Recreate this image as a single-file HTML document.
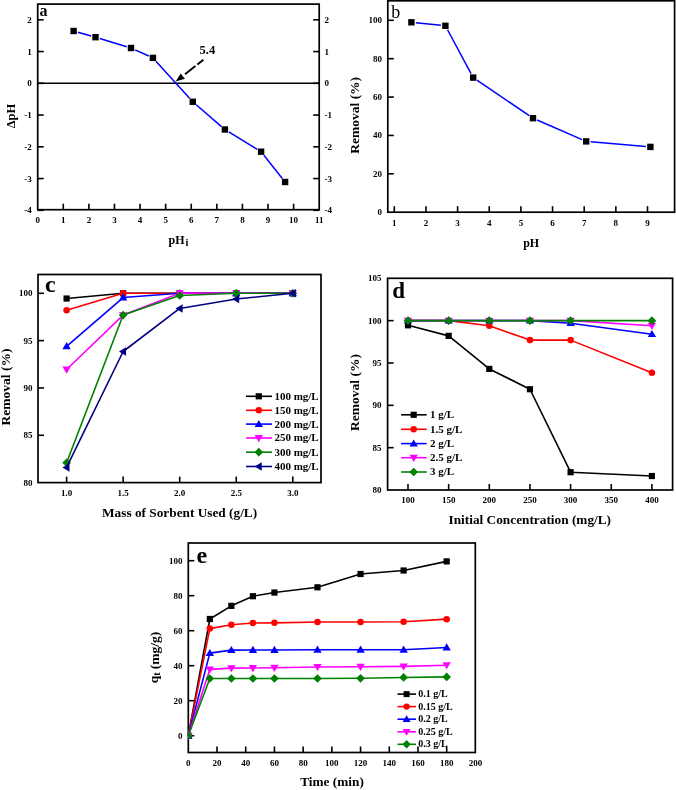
<!DOCTYPE html>
<html><head><meta charset="utf-8"><style>
html,body{margin:0;padding:0;background:#fff;}
svg{display:block;font-family:"Liberation Serif", serif;will-change:transform;}
</style></head><body>
<svg width="676" height="790" viewBox="0 0 676 790">
<rect width="676" height="790" fill="#fff"/>
<defs>
<clipPath id="ce"><rect x="188.3" y="543" width="287" height="209.5"/></clipPath>
</defs>
<rect x="37.70" y="4.10" width="281.50" height="205.60" fill="none" stroke="#000" stroke-width="1.7"/>
<text x="37.70" y="219.60" font-size="9" text-anchor="middle" font-weight="bold" dominant-baseline="central" >0</text>
<line x1="63.29" y1="209.70" x2="63.29" y2="203.70" stroke="#000" stroke-width="1.6" />
<text x="63.29" y="219.60" font-size="9" text-anchor="middle" font-weight="bold" dominant-baseline="central" >1</text>
<line x1="88.88" y1="209.70" x2="88.88" y2="203.70" stroke="#000" stroke-width="1.6" />
<text x="88.88" y="219.60" font-size="9" text-anchor="middle" font-weight="bold" dominant-baseline="central" >2</text>
<line x1="114.47" y1="209.70" x2="114.47" y2="203.70" stroke="#000" stroke-width="1.6" />
<text x="114.47" y="219.60" font-size="9" text-anchor="middle" font-weight="bold" dominant-baseline="central" >3</text>
<line x1="140.06" y1="209.70" x2="140.06" y2="203.70" stroke="#000" stroke-width="1.6" />
<text x="140.06" y="219.60" font-size="9" text-anchor="middle" font-weight="bold" dominant-baseline="central" >4</text>
<line x1="165.65" y1="209.70" x2="165.65" y2="203.70" stroke="#000" stroke-width="1.6" />
<text x="165.65" y="219.60" font-size="9" text-anchor="middle" font-weight="bold" dominant-baseline="central" >5</text>
<line x1="191.24" y1="209.70" x2="191.24" y2="203.70" stroke="#000" stroke-width="1.6" />
<text x="191.24" y="219.60" font-size="9" text-anchor="middle" font-weight="bold" dominant-baseline="central" >6</text>
<line x1="216.83" y1="209.70" x2="216.83" y2="203.70" stroke="#000" stroke-width="1.6" />
<text x="216.83" y="219.60" font-size="9" text-anchor="middle" font-weight="bold" dominant-baseline="central" >7</text>
<line x1="242.42" y1="209.70" x2="242.42" y2="203.70" stroke="#000" stroke-width="1.6" />
<text x="242.42" y="219.60" font-size="9" text-anchor="middle" font-weight="bold" dominant-baseline="central" >8</text>
<line x1="268.01" y1="209.70" x2="268.01" y2="203.70" stroke="#000" stroke-width="1.6" />
<text x="268.01" y="219.60" font-size="9" text-anchor="middle" font-weight="bold" dominant-baseline="central" >9</text>
<line x1="293.60" y1="209.70" x2="293.60" y2="203.70" stroke="#000" stroke-width="1.6" />
<text x="293.60" y="219.60" font-size="9" text-anchor="middle" font-weight="bold" dominant-baseline="central" >10</text>
<text x="319.19" y="219.60" font-size="9" text-anchor="middle" font-weight="bold" dominant-baseline="central" >11</text>
<line x1="37.70" y1="210.30" x2="43.70" y2="210.30" stroke="#000" stroke-width="1.6" />
<line x1="319.20" y1="210.30" x2="313.20" y2="210.30" stroke="#000" stroke-width="1.6" />
<text x="31.80" y="210.30" font-size="9" text-anchor="end" font-weight="bold" dominant-baseline="central" >-4</text>
<text x="324.50" y="210.30" font-size="9" text-anchor="start" font-weight="bold" dominant-baseline="central" >-4</text>
<line x1="37.70" y1="178.55" x2="43.70" y2="178.55" stroke="#000" stroke-width="1.6" />
<line x1="319.20" y1="178.55" x2="313.20" y2="178.55" stroke="#000" stroke-width="1.6" />
<text x="31.80" y="178.55" font-size="9" text-anchor="end" font-weight="bold" dominant-baseline="central" >-3</text>
<text x="324.50" y="178.55" font-size="9" text-anchor="start" font-weight="bold" dominant-baseline="central" >-3</text>
<line x1="37.70" y1="146.80" x2="43.70" y2="146.80" stroke="#000" stroke-width="1.6" />
<line x1="319.20" y1="146.80" x2="313.20" y2="146.80" stroke="#000" stroke-width="1.6" />
<text x="31.80" y="146.80" font-size="9" text-anchor="end" font-weight="bold" dominant-baseline="central" >-2</text>
<text x="324.50" y="146.80" font-size="9" text-anchor="start" font-weight="bold" dominant-baseline="central" >-2</text>
<line x1="37.70" y1="115.05" x2="43.70" y2="115.05" stroke="#000" stroke-width="1.6" />
<line x1="319.20" y1="115.05" x2="313.20" y2="115.05" stroke="#000" stroke-width="1.6" />
<text x="31.80" y="115.05" font-size="9" text-anchor="end" font-weight="bold" dominant-baseline="central" >-1</text>
<text x="324.50" y="115.05" font-size="9" text-anchor="start" font-weight="bold" dominant-baseline="central" >-1</text>
<line x1="37.70" y1="83.30" x2="43.70" y2="83.30" stroke="#000" stroke-width="1.6" />
<line x1="319.20" y1="83.30" x2="313.20" y2="83.30" stroke="#000" stroke-width="1.6" />
<text x="31.80" y="83.30" font-size="9" text-anchor="end" font-weight="bold" dominant-baseline="central" >0</text>
<text x="324.50" y="83.30" font-size="9" text-anchor="start" font-weight="bold" dominant-baseline="central" >0</text>
<line x1="37.70" y1="51.55" x2="43.70" y2="51.55" stroke="#000" stroke-width="1.6" />
<line x1="319.20" y1="51.55" x2="313.20" y2="51.55" stroke="#000" stroke-width="1.6" />
<text x="31.80" y="51.55" font-size="9" text-anchor="end" font-weight="bold" dominant-baseline="central" >1</text>
<text x="324.50" y="51.55" font-size="9" text-anchor="start" font-weight="bold" dominant-baseline="central" >1</text>
<line x1="37.70" y1="19.80" x2="43.70" y2="19.80" stroke="#000" stroke-width="1.6" />
<line x1="319.20" y1="19.80" x2="313.20" y2="19.80" stroke="#000" stroke-width="1.6" />
<text x="31.80" y="19.80" font-size="9" text-anchor="end" font-weight="bold" dominant-baseline="central" >2</text>
<text x="324.50" y="19.80" font-size="9" text-anchor="start" font-weight="bold" dominant-baseline="central" >2</text>
<line x1="37.70" y1="83.20" x2="319.20" y2="83.20" stroke="#000" stroke-width="1.5" />
<line x1="77.93" y1="32.23" x2="91.17" y2="35.97" stroke="#0000ff" stroke-width="1.5"/>
<line x1="99.81" y1="38.51" x2="126.69" y2="46.69" stroke="#0000ff" stroke-width="1.5"/>
<line x1="135.10" y1="49.85" x2="148.80" y2="56.05" stroke="#0000ff" stroke-width="1.5"/>
<line x1="155.93" y1="61.23" x2="189.77" y2="98.47" stroke="#0000ff" stroke-width="1.5"/>
<line x1="196.21" y1="104.74" x2="221.49" y2="126.56" stroke="#0000ff" stroke-width="1.5"/>
<line x1="228.74" y1="131.85" x2="257.26" y2="149.35" stroke="#0000ff" stroke-width="1.5"/>
<line x1="263.89" y1="155.23" x2="282.31" y2="178.47" stroke="#0000ff" stroke-width="1.5"/>
<rect x="70.40" y="27.80" width="6.40" height="6.40" fill="#000"/>
<rect x="92.30" y="34.00" width="6.40" height="6.40" fill="#000"/>
<rect x="127.80" y="44.80" width="6.40" height="6.40" fill="#000"/>
<rect x="149.70" y="54.70" width="6.40" height="6.40" fill="#000"/>
<rect x="189.60" y="98.60" width="6.40" height="6.40" fill="#000"/>
<rect x="221.70" y="126.30" width="6.40" height="6.40" fill="#000"/>
<rect x="257.90" y="148.50" width="6.40" height="6.40" fill="#000"/>
<rect x="281.90" y="178.80" width="6.40" height="6.40" fill="#000"/>
<line x1="203.40" y1="59.80" x2="197.40" y2="64.40" stroke="#000" stroke-width="1.9" />
<line x1="195.40" y1="66.00" x2="185.00" y2="74.20" stroke="#000" stroke-width="1.9" />
<polygon points="175.6,81.6 180.7,73.4 184.9,78.8" fill="#000"/>
<text x="207.40" y="50.00" font-size="12.5" text-anchor="middle" font-weight="bold" dominant-baseline="central" >5.4</text>
<text x="39.50" y="16.00" font-size="16" text-anchor="start" font-weight="bold" dominant-baseline="alphabetic" >a</text>
<text x="11.20" y="116.00" font-size="12.5" text-anchor="middle" font-weight="bold" dominant-baseline="central" transform="rotate(-90 11.2 116)">&#916;pH</text>
<text x="168.6" y="244" font-size="12" font-weight="bold">pH<tspan font-size="10.5" dx="0.8" dy="1.8">i</tspan></text>
<rect x="387.80" y="0.80" width="286.80" height="211.40" fill="none" stroke="#000" stroke-width="1.7"/>
<line x1="394.30" y1="212.20" x2="394.30" y2="206.20" stroke="#000" stroke-width="1.6" />
<text x="394.30" y="223.20" font-size="9" text-anchor="middle" font-weight="bold" dominant-baseline="central" >1</text>
<line x1="425.95" y1="212.20" x2="425.95" y2="206.20" stroke="#000" stroke-width="1.6" />
<text x="425.95" y="223.20" font-size="9" text-anchor="middle" font-weight="bold" dominant-baseline="central" >2</text>
<line x1="457.60" y1="212.20" x2="457.60" y2="206.20" stroke="#000" stroke-width="1.6" />
<text x="457.60" y="223.20" font-size="9" text-anchor="middle" font-weight="bold" dominant-baseline="central" >3</text>
<line x1="489.25" y1="212.20" x2="489.25" y2="206.20" stroke="#000" stroke-width="1.6" />
<text x="489.25" y="223.20" font-size="9" text-anchor="middle" font-weight="bold" dominant-baseline="central" >4</text>
<line x1="520.90" y1="212.20" x2="520.90" y2="206.20" stroke="#000" stroke-width="1.6" />
<text x="520.90" y="223.20" font-size="9" text-anchor="middle" font-weight="bold" dominant-baseline="central" >5</text>
<line x1="552.55" y1="212.20" x2="552.55" y2="206.20" stroke="#000" stroke-width="1.6" />
<text x="552.55" y="223.20" font-size="9" text-anchor="middle" font-weight="bold" dominant-baseline="central" >6</text>
<line x1="584.20" y1="212.20" x2="584.20" y2="206.20" stroke="#000" stroke-width="1.6" />
<text x="584.20" y="223.20" font-size="9" text-anchor="middle" font-weight="bold" dominant-baseline="central" >7</text>
<line x1="615.85" y1="212.20" x2="615.85" y2="206.20" stroke="#000" stroke-width="1.6" />
<text x="615.85" y="223.20" font-size="9" text-anchor="middle" font-weight="bold" dominant-baseline="central" >8</text>
<line x1="647.50" y1="212.20" x2="647.50" y2="206.20" stroke="#000" stroke-width="1.6" />
<text x="647.50" y="223.20" font-size="9" text-anchor="middle" font-weight="bold" dominant-baseline="central" >9</text>
<text x="382.00" y="212.20" font-size="9" text-anchor="end" font-weight="bold" dominant-baseline="central" >0</text>
<line x1="387.80" y1="173.82" x2="393.80" y2="173.82" stroke="#000" stroke-width="1.6" />
<text x="382.00" y="173.82" font-size="9" text-anchor="end" font-weight="bold" dominant-baseline="central" >20</text>
<line x1="387.80" y1="135.44" x2="393.80" y2="135.44" stroke="#000" stroke-width="1.6" />
<text x="382.00" y="135.44" font-size="9" text-anchor="end" font-weight="bold" dominant-baseline="central" >40</text>
<line x1="387.80" y1="97.06" x2="393.80" y2="97.06" stroke="#000" stroke-width="1.6" />
<text x="382.00" y="97.06" font-size="9" text-anchor="end" font-weight="bold" dominant-baseline="central" >60</text>
<line x1="387.80" y1="58.68" x2="393.80" y2="58.68" stroke="#000" stroke-width="1.6" />
<text x="382.00" y="58.68" font-size="9" text-anchor="end" font-weight="bold" dominant-baseline="central" >80</text>
<line x1="387.80" y1="20.30" x2="393.80" y2="20.30" stroke="#000" stroke-width="1.6" />
<text x="382.00" y="20.30" font-size="9" text-anchor="end" font-weight="bold" dominant-baseline="central" >100</text>
<line x1="415.88" y1="22.76" x2="440.92" y2="25.34" stroke="#0000ff" stroke-width="1.5"/>
<line x1="447.53" y1="29.77" x2="471.07" y2="73.63" stroke="#0000ff" stroke-width="1.5"/>
<line x1="476.92" y1="80.13" x2="529.28" y2="115.67" stroke="#0000ff" stroke-width="1.5"/>
<line x1="537.12" y1="120.00" x2="582.08" y2="139.60" stroke="#0000ff" stroke-width="1.5"/>
<line x1="590.68" y1="141.78" x2="645.92" y2="146.52" stroke="#0000ff" stroke-width="1.5"/>
<rect x="408.20" y="19.10" width="6.40" height="6.40" fill="#000"/>
<rect x="442.20" y="22.60" width="6.40" height="6.40" fill="#000"/>
<rect x="470.00" y="74.40" width="6.40" height="6.40" fill="#000"/>
<rect x="529.80" y="115.00" width="6.40" height="6.40" fill="#000"/>
<rect x="583.00" y="138.20" width="6.40" height="6.40" fill="#000"/>
<rect x="647.20" y="143.70" width="6.40" height="6.40" fill="#000"/>
<text x="391.20" y="18.30" font-size="18" text-anchor="start" font-weight="normal" dominant-baseline="alphabetic" >b</text>
<text x="354.20" y="115.30" font-size="13.5" text-anchor="middle" font-weight="bold" dominant-baseline="central" transform="rotate(-90 354.2 115.3)">Removal (%)</text>
<text x="531.20" y="246.70" font-size="12" text-anchor="middle" font-weight="bold" dominant-baseline="alphabetic" >pH</text>
<rect x="38.00" y="274.50" width="283.00" height="208.10" fill="none" stroke="#000" stroke-width="1.7"/>
<line x1="66.60" y1="482.60" x2="66.60" y2="476.60" stroke="#000" stroke-width="1.6" />
<text x="66.60" y="492.90" font-size="9" text-anchor="middle" font-weight="bold" dominant-baseline="central" >1.0</text>
<line x1="123.15" y1="482.60" x2="123.15" y2="476.60" stroke="#000" stroke-width="1.6" />
<text x="123.15" y="492.90" font-size="9" text-anchor="middle" font-weight="bold" dominant-baseline="central" >1.5</text>
<line x1="179.70" y1="482.60" x2="179.70" y2="476.60" stroke="#000" stroke-width="1.6" />
<text x="179.70" y="492.90" font-size="9" text-anchor="middle" font-weight="bold" dominant-baseline="central" >2.0</text>
<line x1="236.25" y1="482.60" x2="236.25" y2="476.60" stroke="#000" stroke-width="1.6" />
<text x="236.25" y="492.90" font-size="9" text-anchor="middle" font-weight="bold" dominant-baseline="central" >2.5</text>
<line x1="292.80" y1="482.60" x2="292.80" y2="476.60" stroke="#000" stroke-width="1.6" />
<text x="292.80" y="492.90" font-size="9" text-anchor="middle" font-weight="bold" dominant-baseline="central" >3.0</text>
<text x="32.50" y="482.60" font-size="9" text-anchor="end" font-weight="bold" dominant-baseline="central" >80</text>
<line x1="38.00" y1="435.27" x2="44.00" y2="435.27" stroke="#000" stroke-width="1.6" />
<text x="32.50" y="435.27" font-size="9" text-anchor="end" font-weight="bold" dominant-baseline="central" >85</text>
<line x1="38.00" y1="387.95" x2="44.00" y2="387.95" stroke="#000" stroke-width="1.6" />
<text x="32.50" y="387.95" font-size="9" text-anchor="end" font-weight="bold" dominant-baseline="central" >90</text>
<line x1="38.00" y1="340.62" x2="44.00" y2="340.62" stroke="#000" stroke-width="1.6" />
<text x="32.50" y="340.62" font-size="9" text-anchor="end" font-weight="bold" dominant-baseline="central" >95</text>
<line x1="38.00" y1="293.30" x2="44.00" y2="293.30" stroke="#000" stroke-width="1.6" />
<text x="32.50" y="293.30" font-size="9" text-anchor="end" font-weight="bold" dominant-baseline="central" >100</text>
<polyline points="66.60,298.51 123.15,293.30 179.70,293.30 236.25,293.30 292.80,293.30" fill="none" stroke="#000000" stroke-width="1.6" stroke-linejoin="round" />
<rect x="63.50" y="295.41" width="6.20" height="6.20" fill="#000000"/>
<rect x="120.05" y="290.20" width="6.20" height="6.20" fill="#000000"/>
<rect x="176.60" y="290.20" width="6.20" height="6.20" fill="#000000"/>
<rect x="233.15" y="290.20" width="6.20" height="6.20" fill="#000000"/>
<rect x="289.70" y="290.20" width="6.20" height="6.20" fill="#000000"/>
<polyline points="66.60,310.34 123.15,293.30 179.70,293.30 236.25,293.30 292.80,293.30" fill="none" stroke="#ff0000" stroke-width="1.6" stroke-linejoin="round" />
<circle cx="66.60" cy="310.34" r="3.26" fill="#ff0000"/>
<circle cx="123.15" cy="293.30" r="3.26" fill="#ff0000"/>
<circle cx="179.70" cy="293.30" r="3.26" fill="#ff0000"/>
<circle cx="236.25" cy="293.30" r="3.26" fill="#ff0000"/>
<circle cx="292.80" cy="293.30" r="3.26" fill="#ff0000"/>
<polyline points="66.60,346.30 123.15,297.56 179.70,293.30 236.25,293.30 292.80,293.30" fill="none" stroke="#0000ff" stroke-width="1.6" stroke-linejoin="round" />
<polygon points="66.60,342.12 70.78,349.23 62.41,349.23" fill="#0000ff"/>
<polygon points="123.15,293.37 127.33,300.49 118.96,300.49" fill="#0000ff"/>
<polygon points="179.70,289.12 183.88,296.23 175.51,296.23" fill="#0000ff"/>
<polygon points="236.25,289.12 240.43,296.23 232.06,296.23" fill="#0000ff"/>
<polygon points="292.80,289.12 296.98,296.23 288.61,296.23" fill="#0000ff"/>
<polyline points="66.60,369.49 123.15,315.07 179.70,293.30 236.25,293.30 292.80,293.30" fill="none" stroke="#ff00ff" stroke-width="1.6" stroke-linejoin="round" />
<polygon points="66.60,373.68 70.78,366.56 62.41,366.56" fill="#ff00ff"/>
<polygon points="123.15,319.25 127.33,312.14 118.96,312.14" fill="#ff00ff"/>
<polygon points="179.70,297.49 183.88,290.37 175.51,290.37" fill="#ff00ff"/>
<polygon points="236.25,297.49 240.43,290.37 232.06,290.37" fill="#ff00ff"/>
<polygon points="292.80,297.49 296.98,290.37 288.61,290.37" fill="#ff00ff"/>
<polyline points="66.60,462.72 123.15,315.07 179.70,295.48 236.25,293.30 292.80,293.30" fill="none" stroke="#008000" stroke-width="1.6" stroke-linejoin="round" />
<polygon points="66.60,458.38 70.94,462.72 66.60,467.06 62.26,462.72" fill="#008000"/>
<polygon points="123.15,310.73 127.49,315.07 123.15,319.41 118.81,315.07" fill="#008000"/>
<polygon points="179.70,291.14 184.04,295.48 179.70,299.82 175.36,295.48" fill="#008000"/>
<polygon points="236.25,288.96 240.59,293.30 236.25,297.64 231.91,293.30" fill="#008000"/>
<polygon points="292.80,288.96 297.14,293.30 292.80,297.64 288.46,293.30" fill="#008000"/>
<polyline points="66.60,467.46 123.15,351.51 179.70,308.44 236.25,298.98 292.80,293.30" fill="none" stroke="#000080" stroke-width="1.6" stroke-linejoin="round" />
<polygon points="62.41,467.46 69.53,463.27 69.53,471.64" fill="#000080"/>
<polygon points="118.96,351.51 126.08,347.32 126.08,355.69" fill="#000080"/>
<polygon points="175.51,308.44 182.63,304.26 182.63,312.63" fill="#000080"/>
<polygon points="232.06,298.98 239.18,294.79 239.18,303.16" fill="#000080"/>
<polygon points="288.61,293.30 295.73,289.12 295.73,297.49" fill="#000080"/>
<line x1="246.00" y1="396.30" x2="272.00" y2="396.30" stroke="#000000" stroke-width="1.6" />
<rect x="255.70" y="393.20" width="6.20" height="6.20" fill="#000000"/>
<text x="274.40" y="395.70" font-size="11" text-anchor="start" font-weight="bold" dominant-baseline="central" >100 mg/L</text>
<line x1="246.00" y1="410.30" x2="272.00" y2="410.30" stroke="#ff0000" stroke-width="1.6" />
<circle cx="258.80" cy="410.30" r="3.26" fill="#ff0000"/>
<text x="274.40" y="409.70" font-size="11" text-anchor="start" font-weight="bold" dominant-baseline="central" >150 mg/L</text>
<line x1="246.00" y1="424.10" x2="272.00" y2="424.10" stroke="#0000ff" stroke-width="1.6" />
<polygon points="258.80,419.92 262.99,427.03 254.62,427.03" fill="#0000ff"/>
<text x="274.40" y="423.50" font-size="11" text-anchor="start" font-weight="bold" dominant-baseline="central" >200 mg/L</text>
<line x1="246.00" y1="438.00" x2="272.00" y2="438.00" stroke="#ff00ff" stroke-width="1.6" />
<polygon points="258.80,442.19 262.99,435.07 254.62,435.07" fill="#ff00ff"/>
<text x="274.40" y="437.40" font-size="11" text-anchor="start" font-weight="bold" dominant-baseline="central" >250 mg/L</text>
<line x1="246.00" y1="452.20" x2="272.00" y2="452.20" stroke="#008000" stroke-width="1.6" />
<polygon points="258.80,447.86 263.14,452.20 258.80,456.54 254.46,452.20" fill="#008000"/>
<text x="274.40" y="451.60" font-size="11" text-anchor="start" font-weight="bold" dominant-baseline="central" >300 mg/L</text>
<line x1="246.00" y1="466.50" x2="272.00" y2="466.50" stroke="#000080" stroke-width="1.6" />
<polygon points="254.62,466.50 261.73,462.31 261.73,470.69" fill="#000080"/>
<text x="274.40" y="465.90" font-size="11" text-anchor="start" font-weight="bold" dominant-baseline="central" >400 mg/L</text>
<text x="45.00" y="291.50" font-size="24" text-anchor="start" font-weight="bold" dominant-baseline="alphabetic" >c</text>
<text x="5.20" y="387.00" font-size="13.5" text-anchor="middle" font-weight="bold" dominant-baseline="central" transform="rotate(-90 5.2 387)">Removal (%)</text>
<text x="179.60" y="516.60" font-size="13.3" text-anchor="middle" font-weight="bold" dominant-baseline="alphabetic" >Mass of Sorbent Used (g/L)</text>
<rect x="387.60" y="278.30" width="285.00" height="211.70" fill="none" stroke="#000" stroke-width="1.7"/>
<line x1="408.00" y1="490.00" x2="408.00" y2="484.00" stroke="#000" stroke-width="1.6" />
<text x="408.00" y="500.40" font-size="9" text-anchor="middle" font-weight="bold" dominant-baseline="central" >100</text>
<line x1="448.65" y1="490.00" x2="448.65" y2="484.00" stroke="#000" stroke-width="1.6" />
<text x="448.65" y="500.40" font-size="9" text-anchor="middle" font-weight="bold" dominant-baseline="central" >150</text>
<line x1="489.30" y1="490.00" x2="489.30" y2="484.00" stroke="#000" stroke-width="1.6" />
<text x="489.30" y="500.40" font-size="9" text-anchor="middle" font-weight="bold" dominant-baseline="central" >200</text>
<line x1="529.95" y1="490.00" x2="529.95" y2="484.00" stroke="#000" stroke-width="1.6" />
<text x="529.95" y="500.40" font-size="9" text-anchor="middle" font-weight="bold" dominant-baseline="central" >250</text>
<line x1="570.60" y1="490.00" x2="570.60" y2="484.00" stroke="#000" stroke-width="1.6" />
<text x="570.60" y="500.40" font-size="9" text-anchor="middle" font-weight="bold" dominant-baseline="central" >300</text>
<line x1="611.25" y1="490.00" x2="611.25" y2="484.00" stroke="#000" stroke-width="1.6" />
<text x="611.25" y="500.40" font-size="9" text-anchor="middle" font-weight="bold" dominant-baseline="central" >350</text>
<line x1="651.90" y1="490.00" x2="651.90" y2="484.00" stroke="#000" stroke-width="1.6" />
<text x="651.90" y="500.40" font-size="9" text-anchor="middle" font-weight="bold" dominant-baseline="central" >400</text>
<text x="381.50" y="490.00" font-size="9" text-anchor="end" font-weight="bold" dominant-baseline="central" >80</text>
<line x1="387.60" y1="447.66" x2="393.60" y2="447.66" stroke="#000" stroke-width="1.6" />
<text x="381.50" y="447.66" font-size="9" text-anchor="end" font-weight="bold" dominant-baseline="central" >85</text>
<line x1="387.60" y1="405.32" x2="393.60" y2="405.32" stroke="#000" stroke-width="1.6" />
<text x="381.50" y="405.32" font-size="9" text-anchor="end" font-weight="bold" dominant-baseline="central" >90</text>
<line x1="387.60" y1="362.98" x2="393.60" y2="362.98" stroke="#000" stroke-width="1.6" />
<text x="381.50" y="362.98" font-size="9" text-anchor="end" font-weight="bold" dominant-baseline="central" >95</text>
<line x1="387.60" y1="320.64" x2="393.60" y2="320.64" stroke="#000" stroke-width="1.6" />
<text x="381.50" y="320.64" font-size="9" text-anchor="end" font-weight="bold" dominant-baseline="central" >100</text>
<text x="381.50" y="278.30" font-size="9" text-anchor="end" font-weight="bold" dominant-baseline="central" >105</text>
<polyline points="408.00,325.30 448.65,335.88 489.30,368.91 529.95,389.23 570.60,472.22 651.90,476.03" fill="none" stroke="#000000" stroke-width="1.6" stroke-linejoin="round" />
<rect x="404.90" y="322.20" width="6.20" height="6.20" fill="#000000"/>
<rect x="445.55" y="332.78" width="6.20" height="6.20" fill="#000000"/>
<rect x="486.20" y="365.81" width="6.20" height="6.20" fill="#000000"/>
<rect x="526.85" y="386.13" width="6.20" height="6.20" fill="#000000"/>
<rect x="567.50" y="469.12" width="6.20" height="6.20" fill="#000000"/>
<rect x="648.80" y="472.93" width="6.20" height="6.20" fill="#000000"/>
<polyline points="408.00,320.64 448.65,320.64 489.30,325.72 529.95,340.12 570.60,340.12 651.90,372.72" fill="none" stroke="#ff0000" stroke-width="1.6" stroke-linejoin="round" />
<circle cx="408.00" cy="320.64" r="3.26" fill="#ff0000"/>
<circle cx="448.65" cy="320.64" r="3.26" fill="#ff0000"/>
<circle cx="489.30" cy="325.72" r="3.26" fill="#ff0000"/>
<circle cx="529.95" cy="340.12" r="3.26" fill="#ff0000"/>
<circle cx="570.60" cy="340.12" r="3.26" fill="#ff0000"/>
<circle cx="651.90" cy="372.72" r="3.26" fill="#ff0000"/>
<polyline points="408.00,320.64 448.65,320.64 489.30,320.64 529.95,320.64 570.60,323.18 651.90,334.19" fill="none" stroke="#0000ff" stroke-width="1.6" stroke-linejoin="round" />
<polygon points="408.00,316.45 412.19,323.57 403.81,323.57" fill="#0000ff"/>
<polygon points="448.65,316.45 452.83,323.57 444.46,323.57" fill="#0000ff"/>
<polygon points="489.30,316.45 493.49,323.57 485.12,323.57" fill="#0000ff"/>
<polygon points="529.95,316.45 534.13,323.57 525.77,323.57" fill="#0000ff"/>
<polygon points="570.60,319.00 574.78,326.11 566.42,326.11" fill="#0000ff"/>
<polygon points="651.90,330.00 656.08,337.12 647.72,337.12" fill="#0000ff"/>
<polyline points="408.00,320.64 448.65,320.64 489.30,320.64 529.95,320.64 570.60,320.64 651.90,325.72" fill="none" stroke="#ff00ff" stroke-width="1.6" stroke-linejoin="round" />
<polygon points="408.00,324.82 412.19,317.71 403.81,317.71" fill="#ff00ff"/>
<polygon points="448.65,324.82 452.83,317.71 444.46,317.71" fill="#ff00ff"/>
<polygon points="489.30,324.82 493.49,317.71 485.12,317.71" fill="#ff00ff"/>
<polygon points="529.95,324.82 534.13,317.71 525.77,317.71" fill="#ff00ff"/>
<polygon points="570.60,324.82 574.78,317.71 566.42,317.71" fill="#ff00ff"/>
<polygon points="651.90,329.91 656.08,322.79 647.72,322.79" fill="#ff00ff"/>
<polyline points="408.00,320.64 448.65,320.64 489.30,320.64 529.95,320.64 570.60,320.64 651.90,320.64" fill="none" stroke="#008000" stroke-width="1.6" stroke-linejoin="round" />
<polygon points="408.00,316.30 412.34,320.64 408.00,324.98 403.66,320.64" fill="#008000"/>
<polygon points="448.65,316.30 452.99,320.64 448.65,324.98 444.31,320.64" fill="#008000"/>
<polygon points="489.30,316.30 493.64,320.64 489.30,324.98 484.96,320.64" fill="#008000"/>
<polygon points="529.95,316.30 534.29,320.64 529.95,324.98 525.61,320.64" fill="#008000"/>
<polygon points="570.60,316.30 574.94,320.64 570.60,324.98 566.26,320.64" fill="#008000"/>
<polygon points="651.90,316.30 656.24,320.64 651.90,324.98 647.56,320.64" fill="#008000"/>
<line x1="401.10" y1="414.80" x2="426.70" y2="414.80" stroke="#000000" stroke-width="1.6" />
<rect x="410.60" y="411.70" width="6.20" height="6.20" fill="#000000"/>
<text x="430.00" y="414.20" font-size="11" text-anchor="start" font-weight="bold" dominant-baseline="central" >1 g/L</text>
<line x1="401.10" y1="429.30" x2="426.70" y2="429.30" stroke="#ff0000" stroke-width="1.6" />
<circle cx="413.70" cy="429.30" r="3.26" fill="#ff0000"/>
<text x="430.00" y="428.70" font-size="11" text-anchor="start" font-weight="bold" dominant-baseline="central" >1.5 g/L</text>
<line x1="401.10" y1="443.60" x2="426.70" y2="443.60" stroke="#0000ff" stroke-width="1.6" />
<polygon points="413.70,439.42 417.88,446.53 409.51,446.53" fill="#0000ff"/>
<text x="430.00" y="443.00" font-size="11" text-anchor="start" font-weight="bold" dominant-baseline="central" >2 g/L</text>
<line x1="401.10" y1="457.70" x2="426.70" y2="457.70" stroke="#ff00ff" stroke-width="1.6" />
<polygon points="413.70,461.88 417.88,454.77 409.51,454.77" fill="#ff00ff"/>
<text x="430.00" y="457.10" font-size="11" text-anchor="start" font-weight="bold" dominant-baseline="central" >2.5 g/L</text>
<line x1="401.10" y1="472.00" x2="426.70" y2="472.00" stroke="#008000" stroke-width="1.6" />
<polygon points="413.70,467.66 418.04,472.00 413.70,476.34 409.36,472.00" fill="#008000"/>
<text x="430.00" y="471.40" font-size="11" text-anchor="start" font-weight="bold" dominant-baseline="central" >3 g/L</text>
<text x="392.30" y="297.80" font-size="23" text-anchor="start" font-weight="bold" dominant-baseline="alphabetic" >d</text>
<text x="354.20" y="392.50" font-size="13.5" text-anchor="middle" font-weight="bold" dominant-baseline="central" transform="rotate(-90 354.2 392.5)">Removal (%)</text>
<text x="529.80" y="524.40" font-size="13.3" text-anchor="middle" font-weight="bold" dominant-baseline="alphabetic" >Initial Concentration (mg/L)</text>
<rect x="188.30" y="543.00" width="287.00" height="209.50" fill="none" stroke="#000" stroke-width="1.7"/>
<text x="188.30" y="763.20" font-size="9" text-anchor="middle" font-weight="bold" dominant-baseline="central" >0</text>
<line x1="217.01" y1="752.50" x2="217.01" y2="746.50" stroke="#000" stroke-width="1.6" />
<text x="217.01" y="763.20" font-size="9" text-anchor="middle" font-weight="bold" dominant-baseline="central" >20</text>
<line x1="245.72" y1="752.50" x2="245.72" y2="746.50" stroke="#000" stroke-width="1.6" />
<text x="245.72" y="763.20" font-size="9" text-anchor="middle" font-weight="bold" dominant-baseline="central" >40</text>
<line x1="274.43" y1="752.50" x2="274.43" y2="746.50" stroke="#000" stroke-width="1.6" />
<text x="274.43" y="763.20" font-size="9" text-anchor="middle" font-weight="bold" dominant-baseline="central" >60</text>
<line x1="303.14" y1="752.50" x2="303.14" y2="746.50" stroke="#000" stroke-width="1.6" />
<text x="303.14" y="763.20" font-size="9" text-anchor="middle" font-weight="bold" dominant-baseline="central" >80</text>
<line x1="331.85" y1="752.50" x2="331.85" y2="746.50" stroke="#000" stroke-width="1.6" />
<text x="331.85" y="763.20" font-size="9" text-anchor="middle" font-weight="bold" dominant-baseline="central" >100</text>
<line x1="360.56" y1="752.50" x2="360.56" y2="746.50" stroke="#000" stroke-width="1.6" />
<text x="360.56" y="763.20" font-size="9" text-anchor="middle" font-weight="bold" dominant-baseline="central" >120</text>
<line x1="389.27" y1="752.50" x2="389.27" y2="746.50" stroke="#000" stroke-width="1.6" />
<text x="389.27" y="763.20" font-size="9" text-anchor="middle" font-weight="bold" dominant-baseline="central" >140</text>
<line x1="417.98" y1="752.50" x2="417.98" y2="746.50" stroke="#000" stroke-width="1.6" />
<text x="417.98" y="763.20" font-size="9" text-anchor="middle" font-weight="bold" dominant-baseline="central" >160</text>
<line x1="446.69" y1="752.50" x2="446.69" y2="746.50" stroke="#000" stroke-width="1.6" />
<text x="446.69" y="763.20" font-size="9" text-anchor="middle" font-weight="bold" dominant-baseline="central" >180</text>
<text x="475.40" y="763.20" font-size="9" text-anchor="middle" font-weight="bold" dominant-baseline="central" >200</text>
<line x1="188.30" y1="735.70" x2="194.30" y2="735.70" stroke="#000" stroke-width="1.6" />
<text x="182.60" y="735.70" font-size="9" text-anchor="end" font-weight="bold" dominant-baseline="central" >0</text>
<line x1="188.30" y1="700.70" x2="194.30" y2="700.70" stroke="#000" stroke-width="1.6" />
<text x="182.60" y="700.70" font-size="9" text-anchor="end" font-weight="bold" dominant-baseline="central" >20</text>
<line x1="188.30" y1="665.70" x2="194.30" y2="665.70" stroke="#000" stroke-width="1.6" />
<text x="182.60" y="665.70" font-size="9" text-anchor="end" font-weight="bold" dominant-baseline="central" >40</text>
<line x1="188.30" y1="630.70" x2="194.30" y2="630.70" stroke="#000" stroke-width="1.6" />
<text x="182.60" y="630.70" font-size="9" text-anchor="end" font-weight="bold" dominant-baseline="central" >60</text>
<line x1="188.30" y1="595.70" x2="194.30" y2="595.70" stroke="#000" stroke-width="1.6" />
<text x="182.60" y="595.70" font-size="9" text-anchor="end" font-weight="bold" dominant-baseline="central" >80</text>
<line x1="188.30" y1="560.70" x2="194.30" y2="560.70" stroke="#000" stroke-width="1.6" />
<text x="182.60" y="560.70" font-size="9" text-anchor="end" font-weight="bold" dominant-baseline="central" >100</text>
<polyline points="188.30,735.70 209.83,618.98 231.37,605.85 252.90,596.23 274.43,592.55 317.50,587.30 360.56,574.00 403.62,570.50 446.69,561.40" fill="none" stroke="#000000" stroke-width="1.6" stroke-linejoin="round" />
<g clip-path="url(#ce)">
<rect x="185.20" y="732.60" width="6.20" height="6.20" fill="#000000"/>
<rect x="206.73" y="615.88" width="6.20" height="6.20" fill="#000000"/>
<rect x="228.27" y="602.75" width="6.20" height="6.20" fill="#000000"/>
<rect x="249.80" y="593.12" width="6.20" height="6.20" fill="#000000"/>
<rect x="271.33" y="589.45" width="6.20" height="6.20" fill="#000000"/>
<rect x="314.39" y="584.20" width="6.20" height="6.20" fill="#000000"/>
<rect x="357.46" y="570.90" width="6.20" height="6.20" fill="#000000"/>
<rect x="400.52" y="567.40" width="6.20" height="6.20" fill="#000000"/>
<rect x="443.59" y="558.30" width="6.20" height="6.20" fill="#000000"/>
</g>
<polyline points="188.30,735.70 209.83,628.60 231.37,624.75 252.90,623.00 274.43,622.83 317.50,621.95 360.56,621.95 403.62,621.78 446.69,619.15" fill="none" stroke="#ff0000" stroke-width="1.6" stroke-linejoin="round" />
<g clip-path="url(#ce)">
<circle cx="188.30" cy="735.70" r="3.26" fill="#ff0000"/>
<circle cx="209.83" cy="628.60" r="3.26" fill="#ff0000"/>
<circle cx="231.37" cy="624.75" r="3.26" fill="#ff0000"/>
<circle cx="252.90" cy="623.00" r="3.26" fill="#ff0000"/>
<circle cx="274.43" cy="622.83" r="3.26" fill="#ff0000"/>
<circle cx="317.50" cy="621.95" r="3.26" fill="#ff0000"/>
<circle cx="360.56" cy="621.95" r="3.26" fill="#ff0000"/>
<circle cx="403.62" cy="621.78" r="3.26" fill="#ff0000"/>
<circle cx="446.69" cy="619.15" r="3.26" fill="#ff0000"/>
</g>
<polyline points="188.30,735.70 209.83,653.10 231.37,650.12 252.90,649.95 274.43,649.95 317.50,649.78 360.56,649.78 403.62,649.78 446.69,647.50" fill="none" stroke="#0000ff" stroke-width="1.6" stroke-linejoin="round" />
<g clip-path="url(#ce)">
<polygon points="188.30,731.52 192.49,738.63 184.12,738.63" fill="#0000ff"/>
<polygon points="209.83,648.92 214.02,656.03 205.65,656.03" fill="#0000ff"/>
<polygon points="231.37,645.94 235.55,653.05 227.18,653.05" fill="#0000ff"/>
<polygon points="252.90,645.77 257.08,652.88 248.71,652.88" fill="#0000ff"/>
<polygon points="274.43,645.77 278.62,652.88 270.25,652.88" fill="#0000ff"/>
<polygon points="317.50,645.59 321.68,652.70 313.31,652.70" fill="#0000ff"/>
<polygon points="360.56,645.59 364.75,652.70 356.38,652.70" fill="#0000ff"/>
<polygon points="403.62,645.59 407.81,652.70 399.44,652.70" fill="#0000ff"/>
<polygon points="446.69,643.32 450.88,650.43 442.50,650.43" fill="#0000ff"/>
</g>
<polyline points="188.30,735.70 209.83,669.38 231.37,668.15 252.90,667.98 274.43,667.80 317.50,666.93 360.56,666.75 403.62,666.40 446.69,665.18" fill="none" stroke="#ff00ff" stroke-width="1.6" stroke-linejoin="round" />
<g clip-path="url(#ce)">
<polygon points="188.30,739.88 192.49,732.77 184.12,732.77" fill="#ff00ff"/>
<polygon points="209.83,673.56 214.02,666.45 205.65,666.45" fill="#ff00ff"/>
<polygon points="231.37,672.34 235.55,665.22 227.18,665.22" fill="#ff00ff"/>
<polygon points="252.90,672.16 257.08,665.05 248.71,665.05" fill="#ff00ff"/>
<polygon points="274.43,671.99 278.62,664.87 270.25,664.87" fill="#ff00ff"/>
<polygon points="317.50,671.11 321.68,664.00 313.31,664.00" fill="#ff00ff"/>
<polygon points="360.56,670.93 364.75,663.82 356.38,663.82" fill="#ff00ff"/>
<polygon points="403.62,670.59 407.81,663.47 399.44,663.47" fill="#ff00ff"/>
<polygon points="446.69,669.36 450.88,662.25 442.50,662.25" fill="#ff00ff"/>
</g>
<polyline points="188.30,735.70 209.83,678.48 231.37,678.48 252.90,678.48 274.43,678.48 317.50,678.48 360.56,678.30 403.62,677.43 446.69,676.90" fill="none" stroke="#008000" stroke-width="1.6" stroke-linejoin="round" />
<g clip-path="url(#ce)">
<polygon points="188.30,731.36 192.64,735.70 188.30,740.04 183.96,735.70" fill="#008000"/>
<polygon points="209.83,674.13 214.17,678.48 209.83,682.82 205.49,678.48" fill="#008000"/>
<polygon points="231.37,674.13 235.71,678.48 231.37,682.82 227.03,678.48" fill="#008000"/>
<polygon points="252.90,674.13 257.24,678.48 252.90,682.82 248.56,678.48" fill="#008000"/>
<polygon points="274.43,674.13 278.77,678.48 274.43,682.82 270.09,678.48" fill="#008000"/>
<polygon points="317.50,674.13 321.83,678.48 317.50,682.82 313.16,678.48" fill="#008000"/>
<polygon points="360.56,673.96 364.90,678.30 360.56,682.64 356.22,678.30" fill="#008000"/>
<polygon points="403.62,673.09 407.96,677.43 403.62,681.77 399.29,677.43" fill="#008000"/>
<polygon points="446.69,672.56 451.03,676.90 446.69,681.24 442.35,676.90" fill="#008000"/>
</g>
<line x1="397.50" y1="694.10" x2="416.00" y2="694.10" stroke="#000000" stroke-width="1.6" />
<rect x="403.60" y="691.10" width="6.00" height="6.00" fill="#000000"/>
<text x="418.20" y="693.60" font-size="10" text-anchor="start" font-weight="bold" dominant-baseline="central" >0.1 g/L</text>
<line x1="397.50" y1="706.60" x2="416.00" y2="706.60" stroke="#ff0000" stroke-width="1.6" />
<circle cx="406.60" cy="706.60" r="3.15" fill="#ff0000"/>
<text x="418.20" y="706.10" font-size="10" text-anchor="start" font-weight="bold" dominant-baseline="central" >0.15 g/L</text>
<line x1="397.50" y1="719.20" x2="416.00" y2="719.20" stroke="#0000ff" stroke-width="1.6" />
<polygon points="406.60,715.15 410.65,722.04 402.55,722.04" fill="#0000ff"/>
<text x="418.20" y="718.70" font-size="10" text-anchor="start" font-weight="bold" dominant-baseline="central" >0.2 g/L</text>
<line x1="397.50" y1="731.80" x2="416.00" y2="731.80" stroke="#ff00ff" stroke-width="1.6" />
<polygon points="406.60,735.85 410.65,728.96 402.55,728.96" fill="#ff00ff"/>
<text x="418.20" y="731.30" font-size="10" text-anchor="start" font-weight="bold" dominant-baseline="central" >0.25 g/L</text>
<line x1="397.50" y1="744.30" x2="416.00" y2="744.30" stroke="#008000" stroke-width="1.6" />
<polygon points="406.60,740.10 410.80,744.30 406.60,748.50 402.40,744.30" fill="#008000"/>
<text x="418.20" y="743.80" font-size="10" text-anchor="start" font-weight="bold" dominant-baseline="central" >0.3 g/L</text>
<text x="196.60" y="563.30" font-size="24" text-anchor="start" font-weight="bold" dominant-baseline="alphabetic" >e</text>
<text x="153.7" y="657.5" font-size="13.5" font-weight="bold" text-anchor="middle" dominant-baseline="central" transform="rotate(-90 153.7 657.5)">q<tspan font-size="10" dy="2.5">t</tspan><tspan dy="-2.5"> (mg/g)</tspan></text>
<text x="332.00" y="786.20" font-size="13.3" text-anchor="middle" font-weight="bold" dominant-baseline="alphabetic" >Time (min)</text>
</svg>
</body></html>
